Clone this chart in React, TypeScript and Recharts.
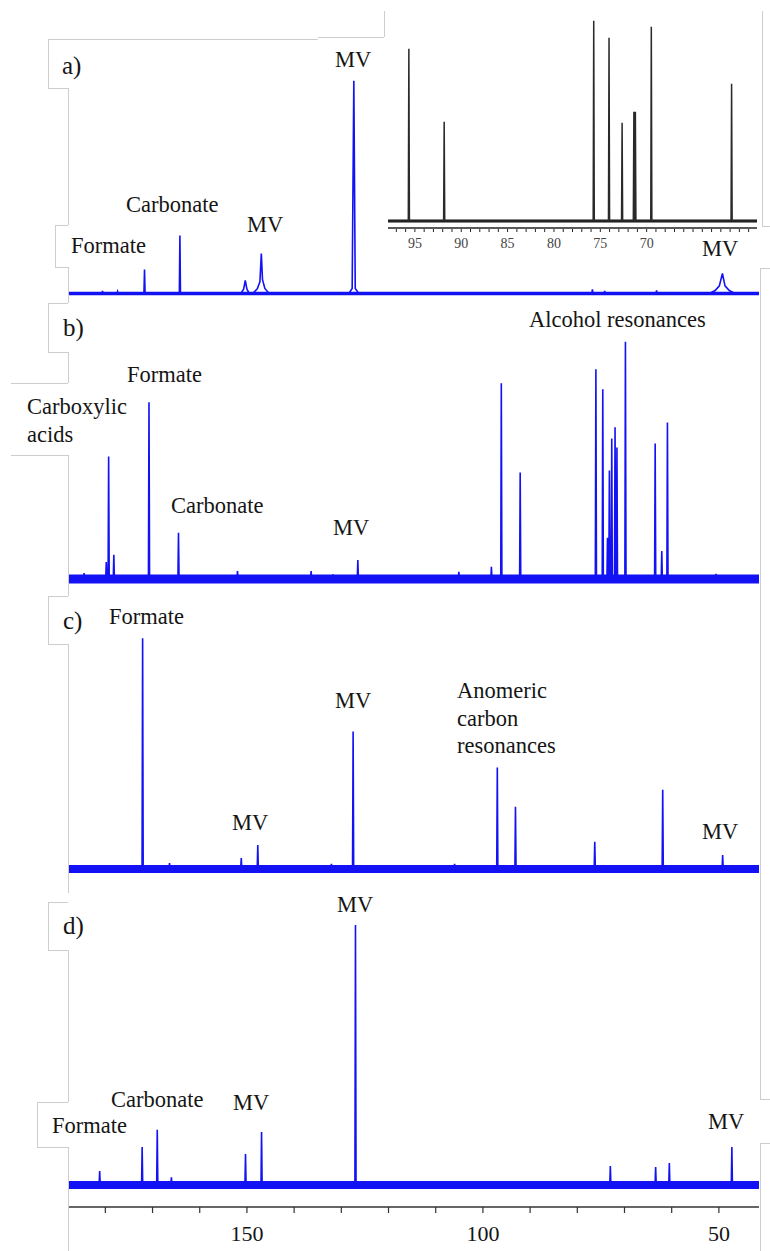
import React from 'react';
import { LineChart, Line, XAxis, YAxis } from 'recharts';

const SERIF = "'Liberation Serif', 'Tinos', 'DejaVu Serif', 'Times New Roman', serif";
const BLUE = '#1212f4';
const INK = '#151515';

// ---- data (ppm, relative intensity, tallest line of each trace = 100) ----
const PPM_RANGE: [number, number] = [41.5, 187.7];
const AXIS_TICKS = [180, 170, 160, 150, 140, 130, 120, 110, 100, 90, 80, 70, 60, 50];
const AXIS_LABELS = [150, 100, 50];

// a) sharp lines
const A_LINES: [number, number][] = [
  [180.6, 1.2], [177.4, 0.9], [171.7, 11.3], [164.2, 27.3], [76.8, 1.9], [74.2, 1.2], [63.2, 1.4],
];
// a) broadened MV signals, outline points
const A_BROAD: [number, number][][] = [
  [[151.3, 0], [150.7, 2.0], [150.35, 6.1], [150.0, 2.0], [149.5, 0]],
  [[148.8, 0], [147.8, 2.2], [147.25, 5.5], [146.95, 18.8], [146.7, 6.5], [146.2, 2.4], [145.3, 0]],
  [[128.4, 0], [127.7, 2.4], [127.35, 100], [127.05, 2.4], [126.3, 0]],
  [[52.0, 0], [50.8, 1.4], [49.9, 3.6], [49.25, 9.4], [48.7, 3.6], [47.8, 1.4], [46.6, 0]],
];

// b)
const B_LINES: [number, number][] = [
  [184.5, 2.5], [179.8, 7.2], [179.3, 51.6], [178.2, 10.2], [170.75, 74.5], [164.5, 19.5],
  [152.0, 3.4], [136.4, 3.4], [131.8, 2.0], [126.5, 8.0], [105.1, 3.0], [98.2, 5.1],
  [96.1, 82.5], [92.1, 44.9], [76.06, 88.4], [74.6, 80.0], [73.6, 17.4], [73.2, 45.7],
  [72.7, 59.2], [72.0, 63.9], [71.6, 55.4], [69.8, 100], [63.5, 57.1], [62.1, 11.8],
  [60.9, 66.0], [50.6, 2.2],
];

// c)
const C_LINES: [number, number][] = [
  [172.1, 100], [166.4, 2.6], [151.2, 4.8], [147.7, 10.4], [132.1, 2.2], [127.5, 59.6],
  [106.0, 2.2], [96.95, 44.0], [93.1, 27.0], [76.3, 11.8], [61.9, 34.4], [49.2, 6.1],
];

// d)
const D_LINES: [number, number][] = [
  [181.2, 5.4], [172.2, 14.6], [169.0, 21.2], [166.0, 3.0], [150.3, 11.9], [146.9, 20.4],
  [127.0, 100], [73.0, 7.3], [63.4, 6.9], [60.5, 8.5], [47.25, 14.6],
];

// inset of a): 58-98 ppm region, black trace
const INSET_RANGE: [number, number] = [58.1, 97.9];
const INSET_LABELS = [95, 90, 85, 80, 75, 70];
const INSET_LINES: [number, number][] = [
  [95.65, 86], [91.84, 49.5], [75.71, 100], [74.06, 91.5], [72.65, 49],
  [71.38, 54.5], [71.22, 54.5], [69.5, 97], [60.84, 68.5],
];

// ---- layout ----
type Panel = {
  lines: [number, number][];
  broad?: [number, number][][];
  plotTop: number;
  plotBottom: number;
  baseline: number;
  peakTop: number;
  band: number;
  axis?: boolean;
};

const PANELS: Panel[] = [
  { lines: A_LINES, broad: A_BROAD, plotTop: 40, plotBottom: 305, baseline: 293.5, peakTop: 80.7, band: 3.5 },
  { lines: B_LINES, plotTop: 310, plotBottom: 597, baseline: 579, peakTop: 341.7, band: 9 },
  { lines: C_LINES, plotTop: 600, plotBottom: 887, baseline: 869, peakTop: 638.3, band: 8 },
  { lines: D_LINES, plotTop: 895, plotBottom: 1207, baseline: 1185, peakTop: 925, band: 8, axis: true },
];

const LABELS: { t: string; x: number; cy: number; big?: boolean }[] = [
  { t: 'a)', x: 62, cy: 67, big: true },
  { t: 'Formate', x: 71, cy: 246 },
  { t: 'Carbonate', x: 126, cy: 205 },
  { t: 'MV', x: 247, cy: 224.5 },
  { t: 'MV', x: 335, cy: 59.5 },
  { t: 'MV', x: 702, cy: 249 },
  { t: 'b)', x: 63, cy: 329, big: true },
  { t: 'Formate', x: 127, cy: 375 },
  { t: 'Carboxylic\nacids', x: 27, cy: 407 },
  { t: 'Carbonate', x: 171, cy: 505.5 },
  { t: 'MV', x: 333, cy: 528 },
  { t: 'Alcohol resonances', x: 529, cy: 320 },
  { t: 'c)', x: 63, cy: 622, big: true },
  { t: 'Formate', x: 109, cy: 617 },
  { t: 'MV', x: 232, cy: 823 },
  { t: 'MV', x: 335, cy: 701 },
  { t: 'Anomeric\ncarbon\nresonances', x: 457, cy: 691 },
  { t: 'MV', x: 702, cy: 832 },
  { t: 'd)', x: 63, cy: 927, big: true },
  { t: 'MV', x: 337, cy: 904.5 },
  { t: 'Carbonate', x: 111, cy: 1099.5 },
  { t: 'Formate', x: 52, cy: 1125.5 },
  { t: 'MV', x: 233, cy: 1102.5 },
  { t: 'MV', x: 708, cy: 1122 },
];

// grey outlines of the original text boxes [x1, y1, x2, y2]
const FRAME: [number, number, number, number][] = [
  [48, 39, 318, 39], [318, 37, 384, 37], [384, 11, 384, 37], [48, 39, 48, 88], [48, 88, 68, 88],
  [68, 88, 68, 225], [55, 225, 68, 225], [55, 225, 55, 267], [55, 267, 68, 267], [68, 267, 68, 303],
  [48, 303, 68, 303], [48, 303, 48, 352], [48, 352, 68, 352], [68, 352, 68, 383], [11, 383, 68, 383],
  [11, 455, 68, 455], [68, 455, 68, 596], [48, 596, 68, 596], [48, 596, 48, 644], [48, 644, 68, 644],
  [68, 644, 68, 893], [48, 902, 68, 902], [48, 902, 48, 950], [48, 950, 68, 950], [68, 950, 68, 1102],
  [37, 1102, 68, 1102], [37, 1102, 37, 1147], [37, 1147, 68, 1147], [68, 1147, 68, 1251],
  [762, 11, 762, 226], [762, 226, 770, 226], [760, 268, 770, 268], [760, 268, 760, 1099],
  [760, 1099, 770, 1099], [760, 1143, 770, 1143], [760, 1143, 760, 1251],
];

function trace(range: [number, number], lines: [number, number][], half: number, broad: [number, number][][] = []) {
  const pts = [{ ppm: range[1], y: 0 }, { ppm: range[0], y: 0 }];
  lines.forEach(([p, h]) => pts.push({ ppm: p + half, y: 0 }, { ppm: p, y: h }, { ppm: p - half, y: 0 }));
  broad.forEach((b) => b.forEach(([p, h]) => pts.push({ ppm: p, y: h })));
  return pts.sort((a, b) => b.ppm - a.ppm);
}

function yDomain(plotTop: number, plotBottom: number, baseline: number, peakTop: number): [number, number] {
  const k = (baseline - peakTop) / 100;
  return [-(plotBottom - baseline) / k, (baseline - plotTop) / k];
}

const Spectrum = ({ p }: { p: Panel }) => {
  const axisH = p.axis ? 44 : 0;
  const h = p.plotBottom - p.plotTop + axisH;
  const data = trace(PPM_RANGE, p.lines, 0.12, p.broad);
  const band = [{ ppm: PPM_RANGE[1], y: 0 }, { ppm: PPM_RANGE[0], y: 0 }];
  return (
    <div style={{ position: 'absolute', left: 0, top: p.plotTop }}>
      <LineChart width={770} height={h} margin={{ top: 0, right: 11, bottom: 0, left: 69 }}>
        {p.axis ? (
          <XAxis
            type="number"
            dataKey="ppm"
            domain={PPM_RANGE}
            reversed
            allowDataOverflow
            ticks={AXIS_TICKS}
            interval={0}
            height={axisH}
            tickFormatter={(v: number) => (AXIS_LABELS.includes(v) ? String(v) : '')}
            tick={{ fill: INK, fontSize: 22, fontFamily: SERIF }}
            tickSize={6}
            tickMargin={12}
            axisLine={{ stroke: '#333', strokeWidth: 1.5 }}
            tickLine={{ stroke: '#333', strokeWidth: 1.2 }}
          />
        ) : (
          <XAxis type="number" dataKey="ppm" domain={PPM_RANGE} reversed allowDataOverflow hide />
        )}
        <YAxis type="number" hide allowDataOverflow domain={yDomain(p.plotTop, p.plotBottom, p.baseline, p.peakTop)} />
        <Line data={band} dataKey="y" stroke={BLUE} strokeWidth={p.band} dot={false} activeDot={false} isAnimationActive={false} />
        <Line data={data} dataKey="y" type="linear" stroke={BLUE} strokeWidth={1.6} dot={false} activeDot={false} isAnimationActive={false} />
      </LineChart>
    </div>
  );
};

const InsetTick = ({ x, y, payload }: any) => (
  <g>
    <line x1={x} x2={x} y1={y + 1} y2={y + 4} stroke="#222" strokeWidth={1} />
    {INSET_LABELS.includes(payload.value) && (
      <text x={x} y={y + 20} textAnchor="middle" fontSize={14} fontFamily={SERIF} fill="#444">
        {payload.value}
      </text>
    )}
  </g>
);

const Inset = () => {
  const top = 10;
  const bottom = 228;
  const data = trace(INSET_RANGE, INSET_LINES, 0.06);
  const band = [{ ppm: INSET_RANGE[1], y: 0 }, { ppm: INSET_RANGE[0], y: 0 }];
  const ticks = Array.from({ length: 39 }, (_, i) => 97 - i);
  return (
    <div style={{ position: 'absolute', left: 388, top }}>
      <LineChart width={369} height={bottom - top + 30} margin={{ top: 0, right: 0, bottom: 0, left: 0 }}>
        <XAxis
          type="number"
          dataKey="ppm"
          domain={INSET_RANGE}
          reversed
          allowDataOverflow
          ticks={ticks}
          interval={0}
          height={30}
          tick={<InsetTick />}
          tickSize={0}
          tickMargin={0}
          tickLine={false}
          axisLine={{ stroke: '#222', strokeWidth: 1.5 }}
        />
        <YAxis type="number" hide allowDataOverflow domain={yDomain(top, bottom, 221, 20.7)} />
        <Line data={band} dataKey="y" stroke="#111" strokeWidth={3} dot={false} activeDot={false} isAnimationActive={false} />
        <Line data={data} dataKey="y" type="linear" stroke="#2a2a2a" strokeWidth={1.5} dot={false} activeDot={false} isAnimationActive={false} />
      </LineChart>
    </div>
  );
};

export default function App() {
  return (
    <div style={{ position: 'absolute', left: 0, top: 0, width: 770, height: 1251, background: '#fff', overflow: 'hidden', fontFamily: SERIF }}>
      {FRAME.map(([x1, y1, x2, y2], i) => (
        <div
          key={i}
          style={{ position: 'absolute', left: x1, top: y1, width: Math.max(1, x2 - x1), height: Math.max(1, y2 - y1), background: '#cdcdcd' }}
        />
      ))}
      {PANELS.map((p, i) => (
        <Spectrum key={i} p={p} />
      ))}
      <Inset />
      {LABELS.map((l, i) => (
        <div
          key={i}
          style={{
            position: 'absolute',
            left: l.x,
            top: l.big ? l.cy - 14.5 : l.cy - 13.9,
            fontSize: l.big ? 25 : 22.5,
            lineHeight: l.big ? '25px' : '27.5px',
            color: INK,
            whiteSpace: 'pre',
            fontFamily: SERIF,
          }}
        >
          {l.t}
        </div>
      ))}
    </div>
  );
}
